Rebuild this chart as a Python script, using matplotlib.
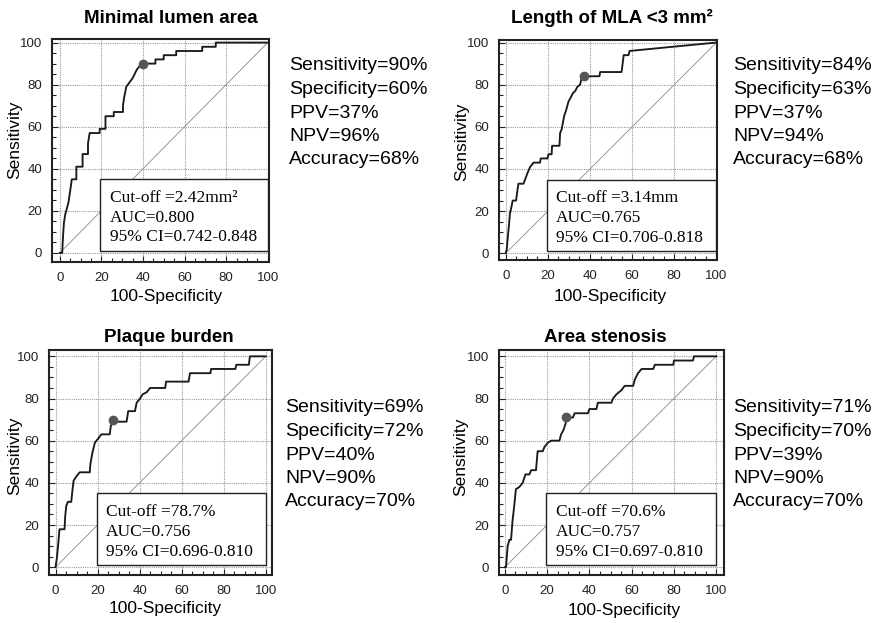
import numpy as np
import matplotlib
matplotlib.use('Agg')
import matplotlib.pyplot as plt
from matplotlib.patches import Rectangle
from matplotlib.ticker import MultipleLocator

plt.rcParams['font.family'] = ['Liberation Sans', 'DejaVu Sans']

# ---- data ----
titles = ['Minimal lumen area', 'Length of MLA <3 mm\u00b2', 'Plaque burden', 'Area stenosis']

mla_fpr = [0, 1.2, 1.6, 2.0, 2.6, 3.4, 4.2, 4.8, 5.4, 5.8, 8, 8, 11, 11, 13.6, 13.6, 14.4, 19.2, 19.2, 22, 22,
           26, 26, 30.4, 30.4, 31, 32, 33.5, 35, 36, 37, 38.5, 40, 46, 46, 50, 50, 56, 56, 68.5, 68.5, 75, 75, 100]
mla_tpr = [0, 0, 8, 14, 18, 21, 24, 28, 32, 35, 35, 41, 41, 47, 47, 52, 57, 57, 59, 59, 65,
           65, 67, 67, 70, 74, 79, 81, 83, 85, 87, 89, 90, 90, 92, 92, 94, 94, 96, 96, 98, 98, 100, 100]

len_fpr = [0, 0.5, 1, 1.5, 2, 2.5, 3.3, 4.9, 5.3, 6, 8.4, 9.2, 10.3, 11.6, 13.2, 16.3, 16.6, 19.8, 20.3, 21.8,
           22, 25.5, 25.8, 26.6, 27.7, 28.7, 29.8, 30.9, 31.9, 33, 34, 35.3, 36, 37, 44.5, 44.8, 55, 56,
           58.3, 58.8, 100]
len_tpr = [0, 2, 8, 13, 19, 21, 25, 25, 28, 33, 33, 35, 38, 41, 43, 43, 45, 45, 47, 47,
           51, 51, 57, 59, 65, 68, 72, 74, 76, 77, 79, 80, 83, 84, 84, 86, 86, 94,
           94, 96, 100]

pb_fpr = [0, 0.6, 1.2, 1.9, 4.3, 4.6, 5.1, 5.9, 7.5, 8, 8.6, 9.9, 11.5, 16.3, 16.6, 17.5, 18.7, 20.3, 21.8,
          25.8, 26.3, 27.5, 33.8, 34.6, 37.8, 38.6, 40.2, 41.5, 43.4, 45, 52.2, 52.6, 63.3, 64, 73.7, 74,
          85.6, 86, 92, 92.5, 100]
pb_tpr = [0, 4, 10, 18, 18, 24, 29, 31, 31, 36, 41, 43, 45, 45, 49, 54, 59, 61, 63,
          63, 67, 69, 69, 74, 74, 78, 80, 82, 83, 85, 85, 88, 88, 92, 92, 94,
          94, 96, 96, 100, 100]

as_fpr = [0, 0.5, 1.3, 2.1, 2.9, 3.6, 4.4, 5.2, 6.8, 8.4, 9.7, 11.6, 12.4, 14.7, 15.5, 17.9, 18.7, 20.3,
          21.9, 25.8, 26.6, 27.7, 28.7, 29, 32.2, 33, 39.3, 40, 43.3, 44, 50.4, 51.2, 52.8, 55.2, 56.7,
          60.7, 61.5, 63, 64.7, 70.2, 71, 79.7, 80, 89, 89.5, 100]
as_tpr = [0, 0, 10, 13, 13, 22, 29, 37, 38, 40, 44, 44, 46, 46, 55, 55, 57, 59,
          60, 60, 63, 65, 68, 71, 71, 73, 73, 75, 75, 78, 78, 80, 82, 84, 86,
          86, 89, 92, 94, 94, 96, 96, 98, 98, 100, 100]

curves_fpr = [mla_fpr, len_fpr, pb_fpr, as_fpr]
curves_tpr = [mla_tpr, len_tpr, pb_tpr, as_tpr]
cut_points = [(40, 90), (37, 84), (27.5, 70), (29, 71)]

box_lines = [['Cut-off =2.42mm\u00b2', 'AUC=0.800', '95% CI=0.742-0.848'],
             ['Cut-off =3.14mm', 'AUC=0.765', '95% CI=0.706-0.818'],
             ['Cut-off =78.7%', 'AUC=0.756', '95% CI=0.696-0.810'],
             ['Cut-off =70.6%', 'AUC=0.757', '95% CI=0.697-0.810']]

stats = [['Sensitivity=90%', 'Specificity=60%', 'PPV=37%', 'NPV=96%', 'Accuracy=68%'],
         ['Sensitivity=84%', 'Specificity=63%', 'PPV=37%', 'NPV=94%', 'Accuracy=68%'],
         ['Sensitivity=69%', 'Specificity=72%', 'PPV=40%', 'NPV=90%', 'Accuracy=70%'],
         ['Sensitivity=71%', 'Specificity=70%', 'PPV=39%', 'NPV=90%', 'Accuracy=70%']]

# ---- layout (pixels in a 872x623 canvas) ----
W, H = 872, 623
frames = [(52, 269, 39, 262), (499, 717, 40, 260), (49, 272, 350, 575), (499, 724, 350, 575)]
xlims = [(-3.7, 100.6), (-3.2, 100.3), (-3.1, 103), (-2.8, 103.7)]
ylims = [(-4.3, 101.7), (-3.2, 101.2), (-3.7, 103), (-3.7, 103)]
title_pos = [(171, 23), (612, 23), (169, 342), (605, 342)]
ylab_pos = [(15, 140), (462, 142), (15, 456), (461, 457)]
xlab_pos = [(166, 296), (610, 296), (165, 608), (624, 610)]
stats_pos = [(289, 66), (733, 66), (285, 408), (733, 408)]

fig = plt.figure(figsize=(W / 100, H / 100), dpi=100)

def px(x, y):
    return x / W, 1 - y / H

for i in range(4):
    L, R, T, B = frames[i]
    ax = fig.add_axes([L / W, 1 - B / H, (R - L) / W, (B - T) / H])
    ax.set_xlim(*xlims[i])
    ax.set_ylim(*ylims[i])
    ax.xaxis.set_major_locator(MultipleLocator(20))
    ax.yaxis.set_major_locator(MultipleLocator(20))
    ax.xaxis.set_minor_locator(MultipleLocator(5))
    ax.yaxis.set_minor_locator(MultipleLocator(5))
    ax.tick_params(which='both', direction='in', top=False, right=False, labelsize=9.5,
                   width=0.8, color='#222222', labelcolor='#222222')
    ax.tick_params(which='major', length=4, pad=7)
    ax.tick_params(which='minor', length=3)
    ax.grid(True, which='major', linestyle=(0, (1, 1)), color='#999999', linewidth=0.8)
    for s in ax.spines.values():
        s.set_linewidth(1.5)
        s.set_color('#222222')

    ax.plot([0, 100], [0, 100], color='#888888', linewidth=0.6, zorder=2)
    ax.plot(curves_fpr[i], curves_tpr[i], color='#1a1a1a', linewidth=1.35, zorder=3)
    ax.plot(*cut_points[i], 'o', color='#555555', markersize=6, zorder=4)

    ax.add_patch(Rectangle((19.5, 1), 80.5, 34, facecolor='white', edgecolor='#222222',
                           linewidth=1.0, zorder=5))
    for j, line in enumerate(box_lines[i]):
        ax.text(24, 26 - j * 9.3, line, fontsize=12.5, va='center', ha='left',
                family=['Liberation Serif', 'DejaVu Serif'], zorder=6)

    fig.text(*px(*title_pos[i]), titles[i], fontsize=13.5, fontweight='bold',
             ha='center', va='baseline')
    fig.text(*px(*ylab_pos[i]), 'Sensitivity', fontsize=12.5, rotation=90,
             ha='center', va='center')
    fig.text(*px(*xlab_pos[i]), '100-Specificity', fontsize=12.5, ha='center', va='center')
    sx, sy = stats_pos[i]
    for j, line in enumerate(stats[i]):
        fig.text(*px(sx, sy + j * 23.5), line, fontsize=14, ha='left', va='center')

fig.savefig('out.png', dpi=100)
